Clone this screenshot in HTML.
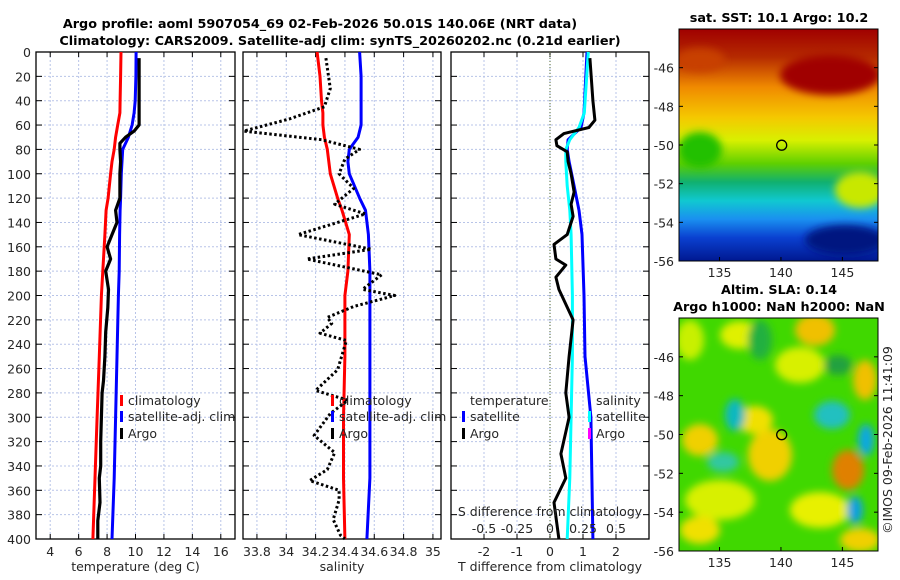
<!DOCTYPE html>
<html><head><meta charset="utf-8"><style>
body{margin:0;background:#fff;}
svg{display:block;font-family:"DejaVu Sans","Liberation Sans",sans-serif;}
</style></head><body>
<svg id="c" width="900" height="580" viewBox="0 0 900 580">
<defs>
<linearGradient id="sstg" x1="0" y1="0" x2="0" y2="1">
<stop offset="0" stop-color="#a00000"/><stop offset="0.12" stop-color="#b52a00"/>
<stop offset="0.25" stop-color="#f08a00"/><stop offset="0.38" stop-color="#f5c800"/>
<stop offset="0.48" stop-color="#d8f000"/><stop offset="0.58" stop-color="#5fd000"/>
<stop offset="0.66" stop-color="#10b070"/><stop offset="0.74" stop-color="#10c8d0"/>
<stop offset="0.82" stop-color="#1a90f0"/><stop offset="0.9" stop-color="#0a40d0"/>
<stop offset="1" stop-color="#001890"/></linearGradient>
<filter id="bl"><feGaussianBlur stdDeviation="4"/></filter>
</defs>
</svg>
<script>
const depths=[0,20,40,50,60,70,80,90,100,120,130,150,180,200,250,300,350,400];
const climT=[8.98,8.95,8.92,8.9,8.75,8.6,8.5,8.35,8.25,8.07,7.93,7.85,7.7,7.6,7.45,7.3,7.15,7.0];
const satT=[10.04,10.03,9.98,9.9,9.76,9.5,9.1,9.05,9.0,8.95,8.92,8.88,8.85,8.8,8.7,8.6,8.5,8.35];
const argoDepthT=[5,40,60,65,70,75,80,90,100,120,130,140,150,160,170,180,195,210,230,250,270,280,300,320,340,350,370,385,400];
const argoT=[10.25,10.25,10.25,9.9,9.3,8.9,8.9,8.95,8.9,8.9,8.6,8.7,8.35,8.0,8.25,7.9,8.1,8.05,7.9,7.85,7.75,7.65,7.6,7.55,7.55,7.45,7.5,7.35,7.35];
const climS=[34.21,34.23,34.24,34.25,34.25,34.26,34.28,34.29,34.30,34.35,34.38,34.43,34.42,34.40,34.40,34.39,34.39,34.40];
const satS=[34.50,34.51,34.51,34.51,34.51,34.49,34.43,34.42,34.43,34.50,34.54,34.56,34.57,34.57,34.57,34.57,34.57,34.55];
const argoDepthS=[5,30,45,55,65,72,80,88,100,112,125,133,150,162,170,183,195,200,209,218,223,231,237,261,278,286,297,315,329,343,352,360,368,384,397,400];
const argoS=[34.27,34.30,34.26,34.02,33.71,34.24,34.50,34.40,34.36,34.46,34.33,34.54,34.08,34.58,34.14,34.65,34.52,34.74,34.46,34.28,34.31,34.23,34.41,34.35,34.20,34.42,34.30,34.19,34.33,34.28,34.16,34.36,34.36,34.32,34.37,34.40];
const diffDepth=[5,40,56,62,67,72,77,82,90,100,115,125,135,150,158,170,175,185,195,220,250,280,300,330,350,370,400];
const argoDT=[1.21,1.3,1.36,1.18,0.42,0.18,0.21,0.52,0.55,0.64,0.73,0.64,0.7,0.52,0.12,0.18,0.48,0.18,0.27,0.7,0.58,0.48,0.58,0.33,0.48,0.12,0.27];
const satDDepth=[0,50,62,72,80,90,110,130,150,200,250,300,350,400];
const satDT=[1.12,1.03,0.94,0.55,0.52,0.58,0.73,0.88,0.97,1.03,1.06,1.24,1.27,1.3];
const satDS=[0.29,0.26,0.22,0.15,0.12,0.12,0.13,0.15,0.16,0.17,0.17,0.16,0.15,0.13];
const tTicks=[4,6,8,10,12,14,16];
const sTicks=[33.8,34,34.2,34.4,34.6,34.8,35];
const dTicks=[-2,-1,0,1,2];
const sdTickLabels=['-0.5','-0.25','0','0.25','0.5'];
const sdTicks=[-0.5,-0.25,0,0.25,0.5];
const depthTicks=[0,20,40,60,80,100,120,140,160,180,200,220,240,260,280,300,320,340,360,380,400];
const latTicks=[-46,-48,-50,-52,-54,-56];
const lonTicks=[135,140,145];

const NS='http://www.w3.org/2000/svg';
const svg=document.getElementById('c');
function el(tag,attrs,parent,text){const e=document.createElementNS(NS,tag);for(const k in attrs)e.setAttribute(k,attrs[k]);if(text!==undefined)e.textContent=text;(parent||svg).appendChild(e);return e;}
const Y0=52,Y1=539;
function yD(d){return Y0+d/400*(Y1-Y0);}
const panels=[{x0:36,x1:235,min:3,max:17},{x0:243,x1:441,min:33.705,max:35.055},{x0:451,x1:649,min:-3,max:3}];
function sx(p,v){return p.x0+(v-p.min)/(p.max-p.min)*(p.x1-p.x0);}
function sdx(v){return sx(panels[2],v*4);}
function path(xs,ds,color,w,dash,name){
  let d='';for(let i=0;i<xs.length;i++)d+=(i?'L':'M')+xs[i].toFixed(1)+','+yD(ds[i]).toFixed(1);
  const a={d:d,fill:'none',stroke:color,'stroke-width':w,'stroke-linejoin':'round'};if(dash)a['stroke-dasharray']=dash;
  const e=el('path',a);
  
  
  return e;}
function txt(x,y,s,opt){const e=el('text',Object.assign({x:x,y:y,'font-size':12.5,fill:'#262626'},opt||{}),svg,s);return e;}

const t1=txt(320,28,'Argo profile: aoml 5907054_69 02-Feb-2026 50.01S 140.06E (NRT data)',{'text-anchor':'middle','font-weight':'bold',fill:'#000','font-size':12.8});


const t2=txt(340,45,'Climatology: CARS2009. Satellite-adj clim: synTS_20260202.nc (0.21d earlier)',{'text-anchor':'middle','font-weight':'bold',fill:'#000','font-size':12.8});



const gridTicks=[[4,6,8,10,12,14,16],sTicks,[-2,-1,0,1,2]];
const xlabels=['temperature (deg C)','salinity','T difference from climatology'];
panels.forEach((p,pi)=>{
  const g=el('g',{});
  
  
  gridTicks[pi].forEach(v=>{const x=sx(p,v);el('line',{x1:x,x2:x,y1:Y0,y2:Y1,stroke:'#b8c4e8','stroke-width':1,'stroke-dasharray':'2,2'},g);
    el('line',{x1:x,x2:x,y1:Y1,y2:Y1-5,stroke:'#000'},g);el('line',{x1:x,x2:x,y1:Y0,y2:Y0+5,stroke:'#000'},g);});
  depthTicks.forEach(d=>{if(d===0||d===400)return;const y=yD(d);el('line',{x1:p.x0,x2:p.x1,y1:y,y2:y,stroke:'#b8c4e8','stroke-width':1,'stroke-dasharray':'2,2'},g);});
  depthTicks.forEach(d=>{const y=yD(d);el('line',{x1:p.x0,x2:p.x0+6,y1:y,y2:y,stroke:'#000'},g);el('line',{x1:p.x1,x2:p.x1-6,y1:y,y2:y,stroke:'#000'},g);});
  const fr=el('rect',{x:p.x0,y:Y0,width:p.x1-p.x0,height:Y1-Y0,fill:'none',stroke:'#000','stroke-width':1.3});
  
  
  const xl=txt((p.x0+p.x1)/2,571,xlabels[pi],{'text-anchor':'middle'});
  
  
});
tTicks.forEach(v=>{const e=txt(sx(panels[0],v),556,String(v),{'text-anchor':'middle'});});
sTicks.forEach(v=>{const e=txt(sx(panels[1],v),556,String(v),{'text-anchor':'middle'});});
dTicks.forEach(v=>{const e=txt(sx(panels[2],v),556,String(v),{'text-anchor':'middle'});});
depthTicks.forEach(d=>{const e=txt(31,yD(d)+5,String(d),{'text-anchor':'end'});});
const zl=el('line',{x1:sx(panels[2],0),x2:sx(panels[2],0),y1:Y0,y2:Y1,stroke:'#556b2f','stroke-width':1,'stroke-dasharray':'1,2'});



path(climT.map(v=>sx(panels[0],v)),depths,'#ff0000',3,null,'climatology-temperature-line');
path(satT.map(v=>sx(panels[0],v)),depths,'#0000ff',3,null,'satellite-temperature-line');
path(argoT.map(v=>sx(panels[0],v)),argoDepthT,'#000',3.2,null,'argo-temperature-line');
path(climS.map(v=>sx(panels[1],v)),depths,'#ff0000',3,null,'climatology-salinity-line');
path(satS.map(v=>sx(panels[1],v)),depths,'#0000ff',3,null,'satellite-salinity-line');
path(argoS.map(v=>sx(panels[1],v)),argoDepthS,'#000',3,'2.5,2.5','argo-salinity-line');
path(satDT.map(v=>sx(panels[2],v)),satDDepth,'#0000ff',3,null,'satellite-t-diff-line');
path(satDS.map(v=>sdx(v)),satDDepth,'#00ffff',3,null,'satellite-s-diff-line');
path(argoDT.map(v=>sx(panels[2],v)),diffDepth,'#000',3,null,'argo-t-diff-line');

const sdt=txt(550,516,'S difference from climatology',{'text-anchor':'middle'});


sdTicks.forEach((v,i)=>{const e=txt(sdx(v),533,sdTickLabels[i],{'text-anchor':'middle'});});

function legend(x,y,color,label,name){const g=el('g',{});
  el('rect',{x:x,y:y-10,width:3,height:11,fill:color},g);el('text',{x:x+8,y:y,'font-size':12.5,fill:'#262626'},g,label);}
legend(120,405,'#ff0000','climatology','legend-entry-climatology');
legend(120,421,'#0000ff','satellite-adj. clim','legend-entry-satellite-adj-clim');
legend(120,438,'#000','Argo','legend-entry-argo');
legend(331,405,'#ff0000','climatology','legend-entry-climatology-s');
legend(331,421,'#0000ff','satellite-adj. clim','legend-entry-satellite-adj-clim-s');
legend(331,438,'#000','Argo','legend-entry-argo-s');
const lh1=txt(470,405,'temperature');
legend(462,421,'#0000ff','satellite','legend-entry-t-satellite');
legend(462,438,'#000','Argo','legend-entry-t-argo');
const lh2=txt(596,405,'salinity');
legend(588,421,'#00ffff','satellite','legend-entry-s-satellite');
legend(588,438,'#ff00ff','Argo','legend-entry-s-argo');

const maps=[{y0:29,y1:261,title:['sat. SST: 10.1 Argo: 10.2'],ty:[22],name:'sst-map'},{y0:318,y1:551,title:['Altim. SLA: 0.14','Argo h1000: NaN h2000: NaN'],ty:[294,311],name:'sla-map'}];
const MX0=679,MX1=878,LON0=131.7,LON1=147.9;
function mx(l){return MX0+(l-LON0)/(LON1-LON0)*(MX1-MX0);}
maps.forEach((m,mi)=>{
  function my(lat){return m.y1-(lat+56)/(12)*(m.y1-m.y0);}
  const g=el('g',{});
  const cp=el('clipPath',{id:'cp'+mi},svg);el('rect',{x:MX0,y:m.y0,width:MX1-MX0,height:m.y1-m.y0},cp);
  const inner=el('g',{'clip-path':'url(#cp'+mi+')'},g);
  if(mi===0){
    el('rect',{x:MX0,y:m.y0,width:MX1-MX0,height:m.y1-m.y0,fill:'url(#sstg)'},inner);
    const bl=el('g',{filter:'url(#bl)'},inner);
    el('ellipse',{cx:830,cy:75,rx:50,ry:20,fill:'#a00000'},bl);
    el('ellipse',{cx:700,cy:150,rx:22,ry:18,fill:'#20c000'},bl);
    el('ellipse',{cx:860,cy:190,rx:25,ry:18,fill:'#c8e800'},bl);
    el('ellipse',{cx:845,cy:240,rx:40,ry:15,fill:'#001880'},bl);
    el('ellipse',{cx:700,cy:60,rx:25,ry:12,fill:'#c84000'},bl);
  } else {
    el('rect',{x:MX0,y:m.y0,width:MX1-MX0,height:m.y1-m.y0,fill:'#40d800'},inner);
    const bl=el('g',{filter:'url(#bl)'},inner);
    [[690,340,14,20,'#c8f000'],[740,335,20,14,'#e0f000'],[815,330,20,16,'#f0c000'],[800,365,25,18,'#d8f000'],[700,440,18,16,'#f0d000'],[770,455,22,26,'#f0d000'],[755,420,18,14,'#f0e000'],[848,470,16,20,'#e08000'],[865,380,12,20,'#f0c000'],[720,500,35,20,'#d8f000'],[820,510,30,18,'#e8f000'],[860,540,20,12,'#f0d000'],[700,530,20,14,'#f0e000'],
     [735,415,10,16,'#10b8c0'],[832,415,18,14,'#20c0c0'],[723,462,16,10,'#30c8a0'],[866,440,8,16,'#10a8e0'],[855,510,8,14,'#10a0e0'],[760,340,12,20,'#20b040'],[838,365,14,10,'#20a040']].forEach(b=>el('ellipse',{cx:b[0],cy:b[1],rx:b[2],ry:b[3],fill:b[4]},bl));
  }
  el('rect',{x:MX0,y:m.y0,width:MX1-MX0,height:m.y1-m.y0,fill:'none',stroke:'#000','stroke-width':1},g);
  const mk=el('circle',{cx:mx(140.06),cy:my(-50.01),r:5,fill:'none',stroke:'#000','stroke-width':1.3});
  
  
  latTicks.forEach(l=>{const y=my(l);el('line',{x1:MX0,x2:MX0+4,y1:y,y2:y,stroke:'#000'},g);el('line',{x1:MX1,x2:MX1-4,y1:y,y2:y,stroke:'#000'},g);
    const e=txt(674,y+5,String(l),{'text-anchor':'end'});});
  lonTicks.forEach(l=>{const x=mx(l);el('line',{x1:x,x2:x,y1:m.y1,y2:m.y1-4,stroke:'#000'},g);
    const e=txt(x,m.y1+16,String(l),{'text-anchor':'middle'});});
  m.title.forEach((s,i)=>{const e=txt(779,m.ty[i],s,{'text-anchor':'middle','font-weight':'bold',fill:'#000','font-size':12.8});});
});
const cr=txt(0,0,'©IMOS 09-Feb-2026 11:41:09',{'text-anchor':'middle',transform:'translate(892,440) rotate(-90)'});


</script>
</body></html>
